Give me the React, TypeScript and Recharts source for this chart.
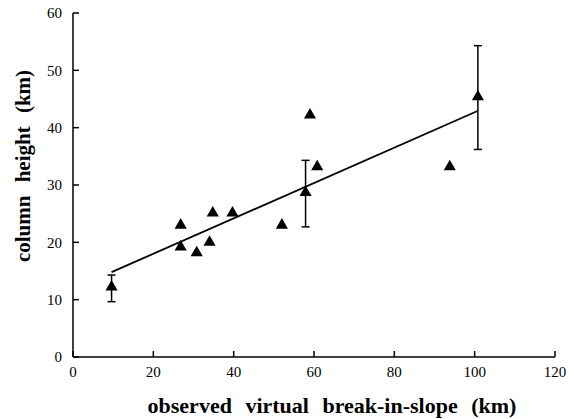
import React from 'react';
import {
  ScatterChart, Scatter, XAxis, YAxis, ZAxis, ErrorBar, ReferenceLine,
} from 'recharts';

// observations without uncertainty
const plainX = [26.8, 26.8, 30.8, 34.0, 34.8, 39.7, 52.0, 59.0, 60.8, 93.8];
const plainY = [23.0, 19.2, 18.2, 20.0, 25.1, 25.1, 23.0, 42.2, 33.2, 33.2];

// observations with error bars
const errX = [9.6, 57.9, 100.8];
const errY = [12.2, 28.7, 45.4];
const errLow = [9.65, 22.7, 36.2];
const errHigh = [14.3, 34.3, 54.3];

// least-squares fit end points
const fitX = [9.6, 100.7];
const fitY = [14.8, 42.9];

const xTicks = [0, 20, 40, 60, 80, 100, 120];
const yTicks = [0, 10, 20, 30, 40, 50, 60];

const FONT = '"Liberation Serif", "Times New Roman", serif';
const TICK_LEN = 6;

const plainData = plainX.map((x, i) => ({ x, y: plainY[i] }));
const errData = errX.map((x, i) => ({
  x,
  y: errY[i],
  err: [errY[i] - errLow[i], errHigh[i] - errY[i]],
}));

const BottomTick = (props: any) => {
  const { x, y, payload } = props;
  const axisY = y - 9;
  return (
    <g>
      <line x1={x} x2={x} y1={axisY} y2={axisY - TICK_LEN} stroke="#000" strokeWidth={1.5} />
      <text x={x} y={y} dy="0.71em" textAnchor="middle" fontFamily={FONT} fontSize={15} fill="#000">
        {payload.value}
      </text>
    </g>
  );
};

const LeftTick = (props: any) => {
  const { x, y, payload } = props;
  const axisX = x + 11;
  return (
    <g>
      <line x1={axisX} x2={axisX + TICK_LEN} y1={y} y2={y} stroke="#000" strokeWidth={1.5} />
      <text x={x} y={y} dy="0.35em" textAnchor="end" fontFamily={FONT} fontSize={15} fill="#000">
        {payload.value}
      </text>
    </g>
  );
};

const XTitle = (props: any) => {
  const { viewBox } = props;
  const cx = viewBox.x + viewBox.width / 2 + 18;
  return (
    <text x={cx} y={viewBox.y + 56} textAnchor="middle" fontFamily={FONT} fontSize={22}
      fontWeight="bold" fill="#000" style={{ wordSpacing: '8px' }}>
      observed virtual break-in-slope (km)
    </text>
  );
};

const YTitle = (props: any) => {
  const { viewBox } = props;
  const cy = viewBox.y + viewBox.height / 2 - 19;
  const tx = 30;
  return (
    <text x={tx} y={cy} transform={`rotate(-90 ${tx} ${cy})`} textAnchor="middle"
      fontFamily={FONT} fontSize={21} fontWeight="bold" fill="#000" style={{ wordSpacing: '8px' }}>
      column height (km)
    </text>
  );
};

export default function App() {
  return (
    <div style={{ position: 'absolute', left: 0, top: 0, background: '#fff' }}>
      <ScatterChart width={581} height={419} margin={{ top: 13, right: 26, bottom: 0, left: 0 }}>
        <XAxis xAxisId="b" type="number" dataKey="x" domain={[0, 120]} ticks={xTicks}
          height={62} tickSize={0} tickMargin={9} tickLine={false}
          axisLine={{ stroke: '#000', strokeWidth: 1.5 }} tick={<BottomTick />}
          label={<XTitle />} allowDataOverflow />
        <XAxis xAxisId="t" orientation="top" type="number" dataKey="x" domain={[0, 120]} ticks={xTicks}
          height={0} mirror tick={false} tickSize={TICK_LEN}
          tickLine={{ stroke: '#000', strokeWidth: 1.5 }}
          axisLine={{ stroke: '#000', strokeWidth: 1.5 }} />
        <YAxis yAxisId="l" type="number" dataKey="y" domain={[0, 60]} ticks={yTicks}
          width={73} tickSize={0} tickMargin={11} tickLine={false}
          axisLine={{ stroke: '#000', strokeWidth: 1.5 }} tick={<LeftTick />}
          label={<YTitle />} allowDataOverflow />
        <YAxis yAxisId="r" orientation="right" type="number" dataKey="y" domain={[0, 60]} ticks={yTicks}
          width={0} mirror tick={false} tickSize={TICK_LEN}
          tickLine={{ stroke: '#000', strokeWidth: 1.5 }}
          axisLine={{ stroke: '#000', strokeWidth: 1.5 }} />
        <ZAxis range={[45, 45]} />
        <ReferenceLine xAxisId="b" yAxisId="l"
          segment={[{ x: fitX[0], y: fitY[0] }, { x: fitX[1], y: fitY[1] }]}
          stroke="#000" strokeWidth={1.8} />
        <Scatter xAxisId="b" yAxisId="l" data={plainData} shape="triangle" fill="#000"
          isAnimationActive={false} />
        <Scatter xAxisId="b" yAxisId="l" data={errData} shape="triangle" fill="#000"
          isAnimationActive={false}>
          <ErrorBar dataKey="err" direction="y" width={4} stroke="#000" strokeWidth={1.5}
            isAnimationActive={false} />
        </Scatter>
      </ScatterChart>
    </div>
  );
}
